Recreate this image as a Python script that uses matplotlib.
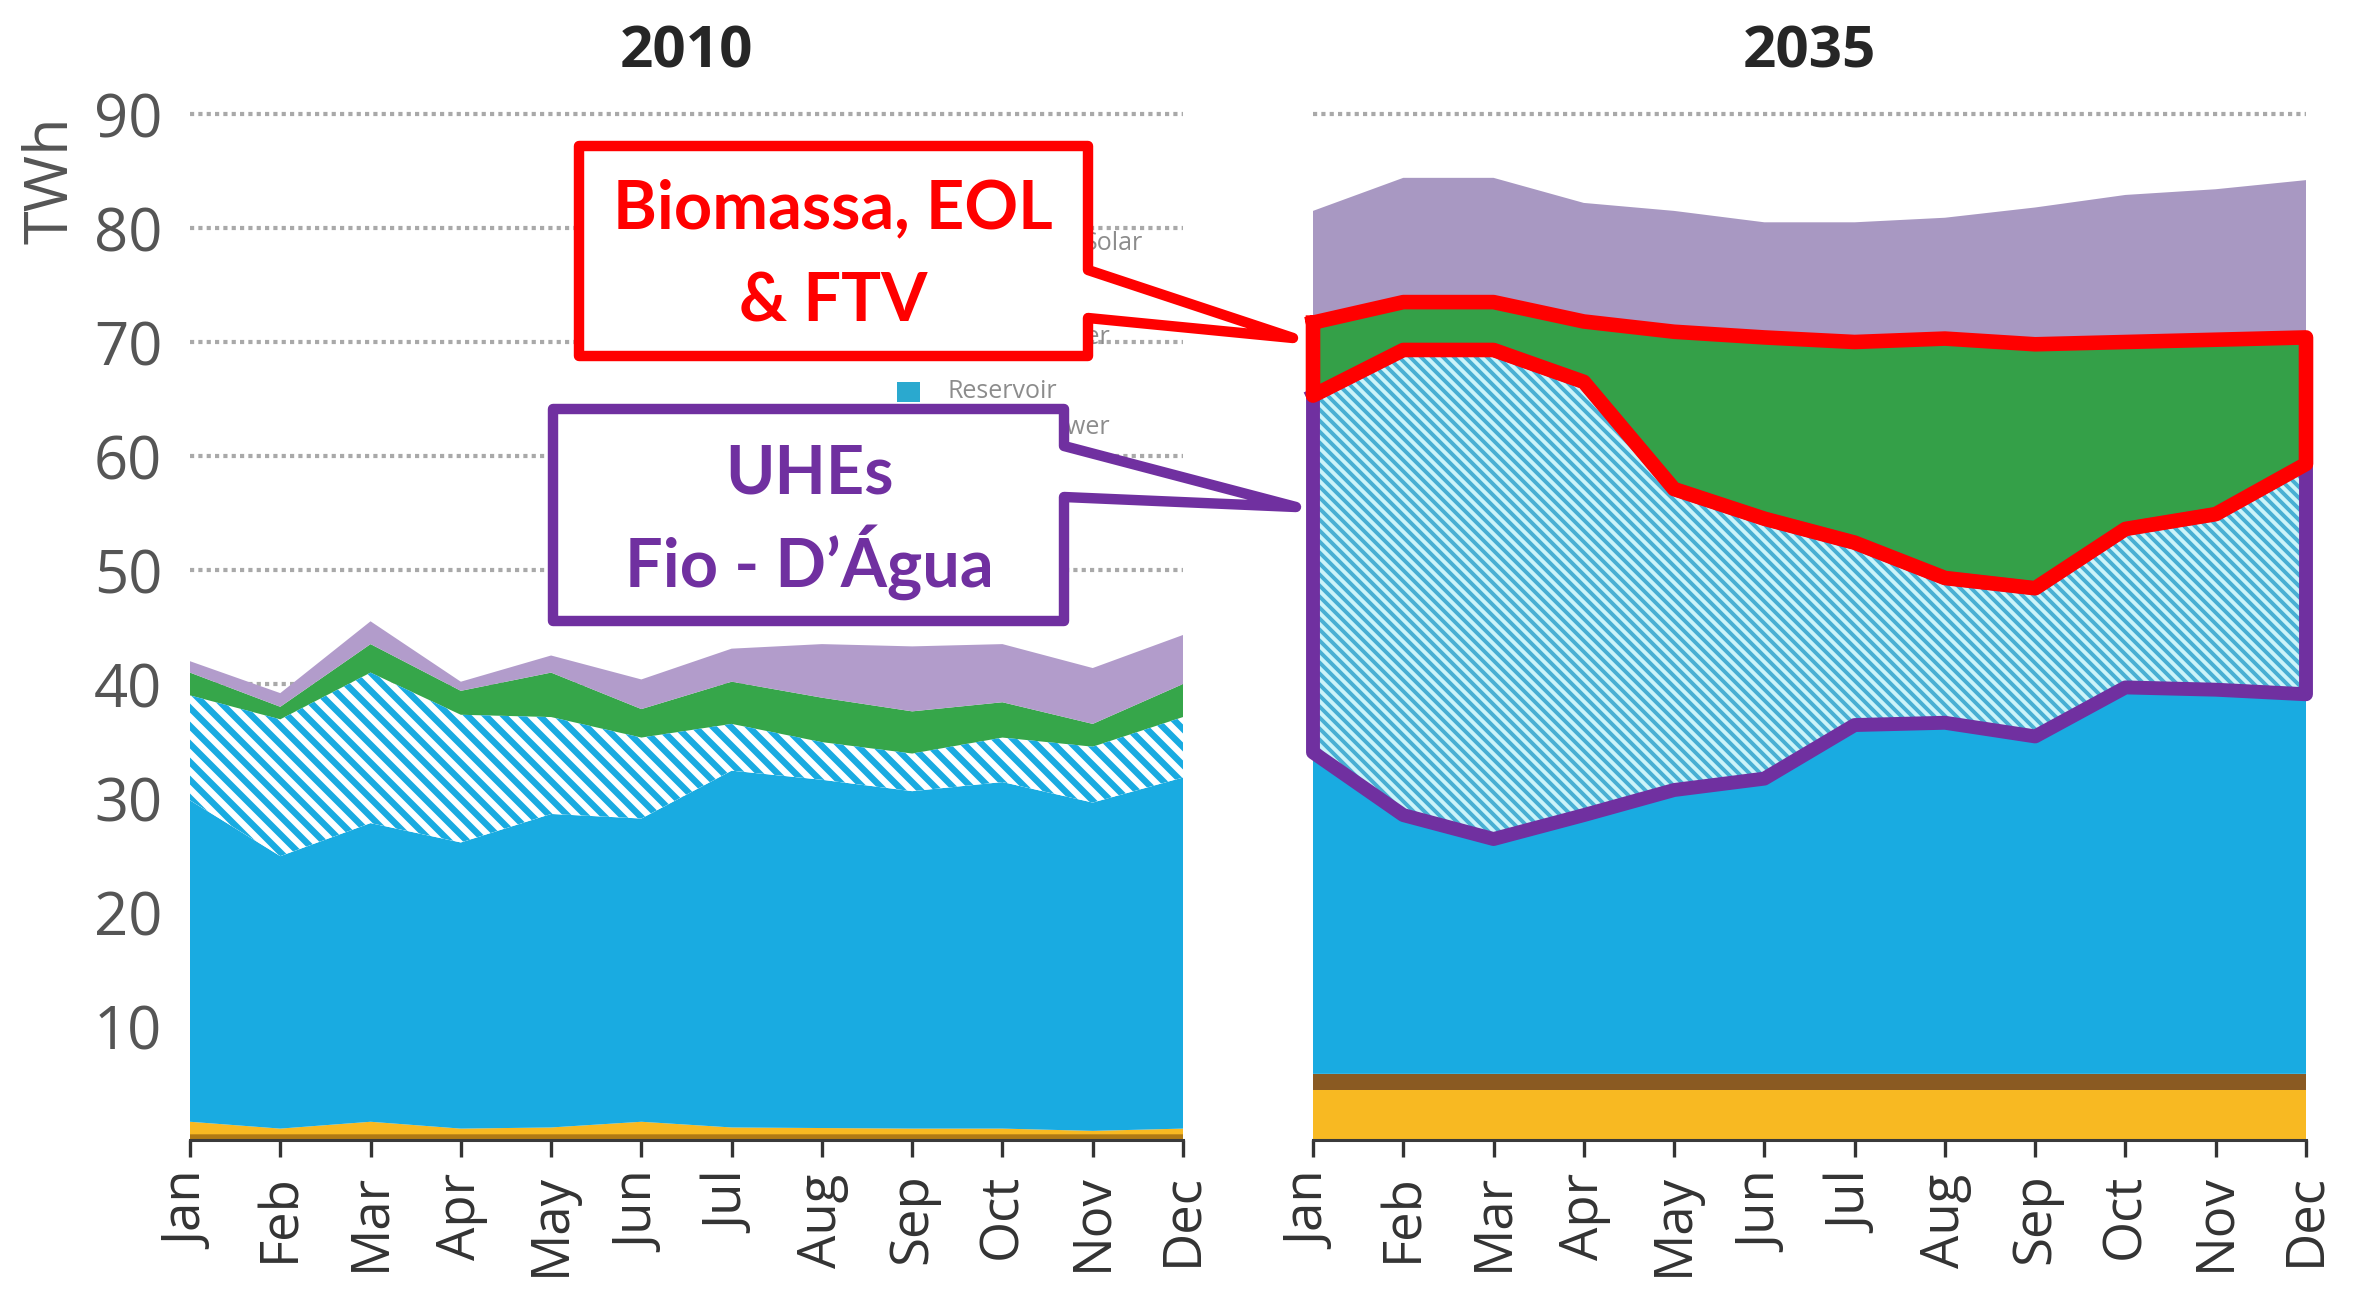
import numpy as np
import matplotlib
matplotlib.use("Agg")
import matplotlib.pyplot as plt
from matplotlib.collections import LineCollection
from matplotlib.patches import Polygon, Rectangle

# ---------------- data ----------------
months = ['Jan', 'Feb', 'Mar', 'Apr', 'May', 'Jun', 'Jul', 'Aug', 'Sep', 'Oct', 'Nov', 'Dec']
yticks = [10, 20, 30, 40, 50, 60, 70, 80, 90]

# 2010 layers (TWh), bottom to top
dark_2010 = [0.5, 0.5, 0.5, 0.5, 0.5, 0.5, 0.5, 0.5, 0.5, 0.5, 0.5, 0.5]
yellow_2010 = [1.1, 0.5, 1.1, 0.5, 0.6, 1.1, 0.6, 0.55, 0.5, 0.5, 0.3, 0.5]
brown_2010 = [0, 0, 0, 0, 0, 0, 0, 0, 0, 0, 0, 0]
reservoir_2010 = [28.2, 23.9, 26.2, 25.1, 27.5, 26.6, 31.3, 30.55, 29.6, 30.4, 28.8, 30.8]
ror_2010 = [9.2, 12.0, 13.2, 11.2, 8.5, 7.1, 4.1, 3.3, 3.3, 3.9, 4.9, 5.3]
green_2010 = [2.0, 1.1, 2.5, 2.1, 3.9, 2.5, 3.7, 3.9, 3.7, 3.1, 2.0, 2.9]
solar_2010 = [1.0, 1.2, 2.0, 0.8, 1.5, 2.6, 2.9, 4.7, 5.7, 5.1, 4.9, 4.3]

# 2035 layers (TWh), bottom to top
dark_2035 = [0, 0, 0, 0, 0, 0, 0, 0, 0, 0, 0, 0]
yellow_2035 = [4.4, 4.4, 4.4, 4.4, 4.4, 4.4, 4.4, 4.4, 4.4, 4.4, 4.4, 4.4]
brown_2035 = [1.4, 1.4, 1.4, 1.4, 1.4, 1.4, 1.4, 1.4, 1.4, 1.4, 1.4, 1.4]
reservoir_2035 = [28.2, 22.7, 20.6, 22.7, 24.9, 25.9, 30.6, 30.8, 29.6, 33.9, 33.7, 33.3]
ror_2035 = [31.3, 40.8, 42.9, 38.0, 26.4, 22.8, 16.0, 12.7, 13.0, 13.9, 15.4, 20.2]
green_2035 = [6.4, 4.2, 4.2, 5.3, 13.8, 15.9, 17.6, 21.0, 21.4, 16.4, 15.3, 11.1]
solar_2035 = [9.8, 10.9, 10.9, 10.4, 10.6, 10.1, 10.5, 10.6, 12.0, 12.9, 13.2, 13.8]

titles = ['2010', '2035']
ylabel = 'TWh'
callout_red = ['Biomassa, EOL', '& FTV']
callout_purple = ['UHEs', 'Fio - D\u2019\u00c1gua']
legend_bits = ['Solar', 'Other', 'Reservoir', 'Power']

# ---------------- styling ----------------
W, H, DPI = 2359, 1301, 100
C_DARK = '#b07a14'
C_YELLOW = '#f8b922'
C_BROWN = '#8a5a22'
C_BLUE = '#19abe1'
C_GREEN = ['#36a64a', '#34a048']
C_PURPLE = ['#b29ccb', '#a898c2']
HATCH = [dict(face='#ffffff', stripe='#19abe1', period=18),
         dict(face='#ccf4f9', stripe='#48afd3', period=11)]
RED = '#ff0000'
VIOLET = '#7030a0'

fig = plt.figure(figsize=(W / DPI, H / DPI), dpi=DPI)
fig.patch.set_facecolor('white')


def fx(px):
    return px / W


def fy(py):
    return 1 - py / H


y0_px, unit_px = 1140, 11.4
ytop = 90.5
ax_top_px = y0_px - ytop * unit_px
axes_px = [(190, 1183), (1313, 2306)]
axes = []
for (l, r) in axes_px:
    ax = fig.add_axes([fx(l), fy(y0_px), (r - l) / W, (y0_px - ax_top_px) / H])
    axes.append(ax)


def hatch_fill(ax, x, lo, hi, face, stripe, period):
    poly = ax.fill_between(x, lo, hi, facecolor=face, linewidth=0, zorder=2)
    bb = ax.get_position()
    wpx, hpx = bb.width * W, bb.height * H
    segs = []
    for off in np.arange(-hpx, wpx + period, period):
        segs.append([(off / wpx, 1.0), ((off + hpx) / wpx, 0.0)])
    lw = period / (2 * np.sqrt(2)) * 72 / DPI
    lc = LineCollection(segs, colors=stripe, linewidths=lw,
                        transform=ax.transAxes, zorder=2.1)
    ax.add_collection(lc, autolim=False)
    lc.set_clip_path(poly.get_paths()[0], ax.transData)
    return poly


datasets = [
    (dark_2010, yellow_2010, brown_2010, reservoir_2010, ror_2010, green_2010, solar_2010),
    (dark_2035, yellow_2035, brown_2035, reservoir_2035, ror_2035, green_2035, solar_2035),
]

x = np.arange(len(months))
tops = []
for i, (ax, ds) in enumerate(zip(axes, datasets)):
    layers = [np.array(d, dtype=float) for d in ds]
    cum = np.cumsum(np.vstack(layers), axis=0)
    base = np.zeros(len(months))
    colors = [C_DARK, C_YELLOW, C_BROWN, C_BLUE, None, C_GREEN[i], C_PURPLE[i]]
    for k in range(len(layers)):
        top = cum[k]
        if k == 4:
            h = HATCH[i]
            hatch_fill(ax, x, base, top, h['face'], h['stripe'], h['period'])
        else:
            ax.fill_between(x, base, top, facecolor=colors[k], linewidth=0, zorder=2)
        base = top
    tops.append(cum)

    ax.set_xlim(0, 11)
    ax.set_ylim(0, ytop)
    ax.set_yticks(yticks)
    ax.set_axisbelow(True)
    ax.yaxis.grid(True, color='#a9a9a9', linestyle=(0, (1.0, 1.0)), linewidth=3.0)
    ax.xaxis.grid(False)
    for s in ['top', 'right', 'left']:
        ax.spines[s].set_visible(False)
    ax.spines['bottom'].set_color('#3a3a3a')
    ax.spines['bottom'].set_linewidth(2.2)
    ax.spines['bottom'].set_zorder(3)
    ax.set_xticks(x)
    ax.set_xticklabels(months, rotation=90, fontsize=38, family='Open Sans',
                       color='#333333')
    ax.tick_params(axis='x', direction='out', length=12, width=2.4, color='#333333', pad=12)
    ax.tick_params(axis='y', length=0, pad=20)
    if i == 0:
        ax.set_yticklabels([str(v) for v in yticks], fontsize=43, family='Open Sans',
                           color='#555555')
    else:
        ax.set_yticklabels([])
    ax.patch.set_alpha(0)

# outlines around 2035 wedges (traced along data boundaries)
ax2 = axes[1]
c = tops[1]
blue_top, hatch_top, green_top = c[3], c[4], c[5]
px = np.concatenate([x, x[::-1], [x[0]]])
py_purple = np.concatenate([hatch_top, blue_top[::-1], [hatch_top[0]]])
ax2.plot(px, py_purple, color=VIOLET, linewidth=10, solid_joinstyle='round',
         zorder=5, clip_on=False)
py_red = np.concatenate([green_top, hatch_top[::-1], [green_top[0]]])
ax2.plot(px, py_red, color=RED, linewidth=10.5, solid_joinstyle='round',
         zorder=6, clip_on=False)

# titles and axis label
for ax, t, (l, r) in zip(axes, titles, axes_px):
    fig.text(fx((l + r) / 2), fy(52), t, ha='center', va='center', fontsize=42,
             fontweight='bold', family='Open Sans', color='#262626')
fig.text(fx(52), fy(180), ylabel, rotation=90, ha='center', va='center', fontsize=44,
         family='Open Sans', color='#555555')

# faint remnants of the original legend (partly hidden by the callouts)
leg_kw = dict(fontsize=18, family='Open Sans', color='#8c8c8c', zorder=0.5, va='center')
fig.text(fx(1143), fy(243), legend_bits[0], ha='right', **leg_kw)
fig.text(fx(1110), fy(338), legend_bits[1], ha='right', **leg_kw)
fig.text(fx(948), fy(392), legend_bits[2], ha='left', **leg_kw)
fig.text(fx(1110), fy(428), legend_bits[3], ha='right', **leg_kw)
fig.add_artist(Rectangle((fx(897), fy(402)), fx(23), 20 / H, facecolor='#2aa9cf',
                         edgecolor='none', transform=fig.transFigure, zorder=0.5))

# callouts
red_box = [(579, 146), (1088, 146), (1088, 270), (1293, 338), (1088, 318), (1088, 356), (579, 356)]
pur_box = [(553, 409), (1064, 409), (1064, 446), (1296, 507), (1064, 497), (1064, 621), (553, 621)]
for pts, col in [(pur_box, VIOLET), (red_box, RED)]:
    poly = Polygon([(fx(a), fy(b)) for a, b in pts], closed=True, facecolor='white',
                   edgecolor=col, linewidth=7.5, joinstyle='round',
                   transform=fig.transFigure, zorder=8)
    fig.add_artist(poly)

txt_kw = dict(ha='center', va='baseline', fontsize=48, fontweight='bold', family='Lato', zorder=9)
fig.text(fx(833), fy(228), callout_red[0], color=RED, **txt_kw)
fig.text(fx(833), fy(321), callout_red[1], color=RED, **txt_kw)
fig.text(fx(809), fy(493), callout_purple[0], color=VIOLET, **txt_kw)
fig.text(fx(809), fy(587), callout_purple[1], color=VIOLET, **txt_kw)

fig.savefig('out.png', dpi=DPI, facecolor='white')
